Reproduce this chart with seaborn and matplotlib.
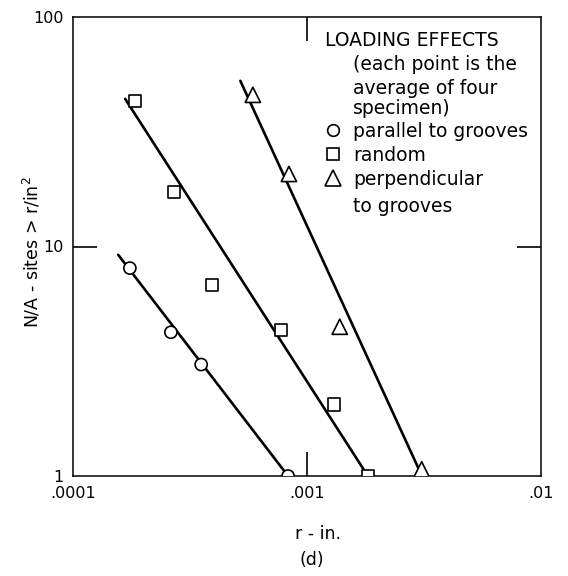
import matplotlib
matplotlib.use("Agg")
import matplotlib.pyplot as plt
from matplotlib.lines import Line2D
import seaborn as sns
import pandas as pd

# ---- data ----
par_r = [1.75e-4, 2.62e-4, 3.53e-4, 8.3e-4]
par_n = [8.05, 4.23, 3.06, 1.0]
ran_r = [1.84e-4, 2.69e-4, 3.91e-4, 7.73e-4, 1.30e-3, 1.82e-3]
ran_n = [42.9, 17.3, 6.8, 4.31, 2.05, 1.0]
per_r = [5.87e-4, 8.37e-4, 1.38e-3, 3.09e-3]
per_n = [45.8, 20.7, 4.47, 1.07]

# fitted lines (end points)
par_fit_r = [1.56e-4, 8.3e-4]
par_fit_n = [9.2, 1.0]
ran_fit_r = [1.67e-4, 1.82e-3]
ran_fit_n = [44.0, 1.0]
per_fit_r = [5.19e-4, 3.1e-3]
per_fit_n = [52.7, 1.0]

series = ["parallel to grooves", "random", "perpendicular to grooves"]
x_ticks = [1e-4, 1e-3, 1e-2]
x_ticklabels = [".0001", ".001", ".01"]
y_ticks = [1, 10, 100]
y_ticklabels = ["1", "10", "100"]

pts = pd.DataFrame({
    "r": par_r + ran_r + per_r,
    "n": par_n + ran_n + per_n,
    "loading": [series[0]] * len(par_r) + [series[1]] * len(ran_r) + [series[2]] * len(per_r),
})
fits = pd.DataFrame({
    "r": par_fit_r + ran_fit_r + per_fit_r,
    "n": par_fit_n + ran_fit_n + per_fit_n,
    "loading": [series[0]] * 2 + [series[1]] * 2 + [series[2]] * 2,
})

sns.set_style("ticks")
plt.rcParams["font.family"] = ["DejaVu Sans"]
plt.rcParams["text.color"] = "black"
plt.rcParams["axes.labelcolor"] = "black"
plt.rcParams["xtick.color"] = "black"
plt.rcParams["ytick.color"] = "black"

W, H = 568, 576
fig = plt.figure(figsize=(W / 100, H / 100), dpi=100)
L, R, T, B = 73, 541, 17, 476
ax = fig.add_axes([L / W, 1 - B / H, (R - L) / W, (B - T) / H])

markers = {series[0]: "o", series[1]: "s", series[2]: "^"}
sizes = {series[0]: 76, series[1]: 76, series[2]: 120}

sns.lineplot(data=fits, x="r", y="n", units="loading", estimator=None, sort=False,
             color="black", linewidth=1.9, ax=ax, legend=False, zorder=2)
sns.scatterplot(data=pts, x="r", y="n", style="loading", markers=markers,
                size="loading", sizes=sizes, color="white", edgecolor="black",
                linewidth=1.2, ax=ax, legend=False, zorder=3)

ax.set_xscale("log")
ax.set_yscale("log")
ax.set_xlim(1e-4, 1e-2)
ax.set_ylim(1, 100)
ax.set_xticks(x_ticks)
ax.set_xticklabels(x_ticklabels)
ax.set_yticks(y_ticks)
ax.set_yticklabels(y_ticklabels)
ax.minorticks_off()
ax.tick_params(axis="both", which="major", direction="in", length=17, width=1.2,
               color="black", labelsize=11.5, pad=7, top=True, right=True,
               labelcolor="black")
# no tick marks at the corners (only the inner decade ticks are drawn)
for axis in (ax.xaxis, ax.yaxis):
    ticks = axis.get_major_ticks()
    for t in (ticks[0], ticks[-1]):
        t.tick1line.set_visible(False)
        t.tick2line.set_visible(False)
for s in ax.spines.values():
    s.set_visible(True)
    s.set_color("black")
    s.set_linewidth(1.1)

ax.set_xlabel("r - in.", fontsize=12.5)
ax.set_ylabel("N/A - sites > r/in$^2$", fontsize=12.5)
ax.xaxis.set_label_coords((318 - L) / (R - L), (B - 525) / (B - T))
ax.yaxis.set_label_coords((42 - L) / (R - L), (B - 252) / (B - T))
fig.text(312 / W, 1 - 560 / H, "(d)", ha="center", va="center", fontsize=12.5)

# legend / annotation block
def px(x, y):
    return x / W, 1 - y / H

fs = 13.5
fig.text(*px(325, 40), "LOADING EFFECTS", ha="left", va="center", fontsize=fs)
for txt, yy in [("(each point is the", 65), ("average of four", 88), ("specimen)", 109)]:
    fig.text(*px(353, yy), txt, ha="left", va="center", fontsize=fs)

handles = [Line2D([], [], linestyle="none", marker=markers[s], markersize=(8.4 if s != series[2] else 11),
                  markerfacecolor="white", markeredgecolor="black", markeredgewidth=1.2)
           for s in series]
labels = ["parallel to grooves", "random", "perpendicular"]
leg = ax.legend(handles, labels, loc="upper left", bbox_to_anchor=px(323.5, 122),
                bbox_transform=fig.transFigure, frameon=False, fontsize=fs,
                handlelength=1.0, handletextpad=0.58, labelspacing=0.26, borderpad=0,
                borderaxespad=0)
fig.text(*px(353, 207), "to grooves", ha="left", va="center", fontsize=fs)

fig.savefig("out.png", dpi=100)
